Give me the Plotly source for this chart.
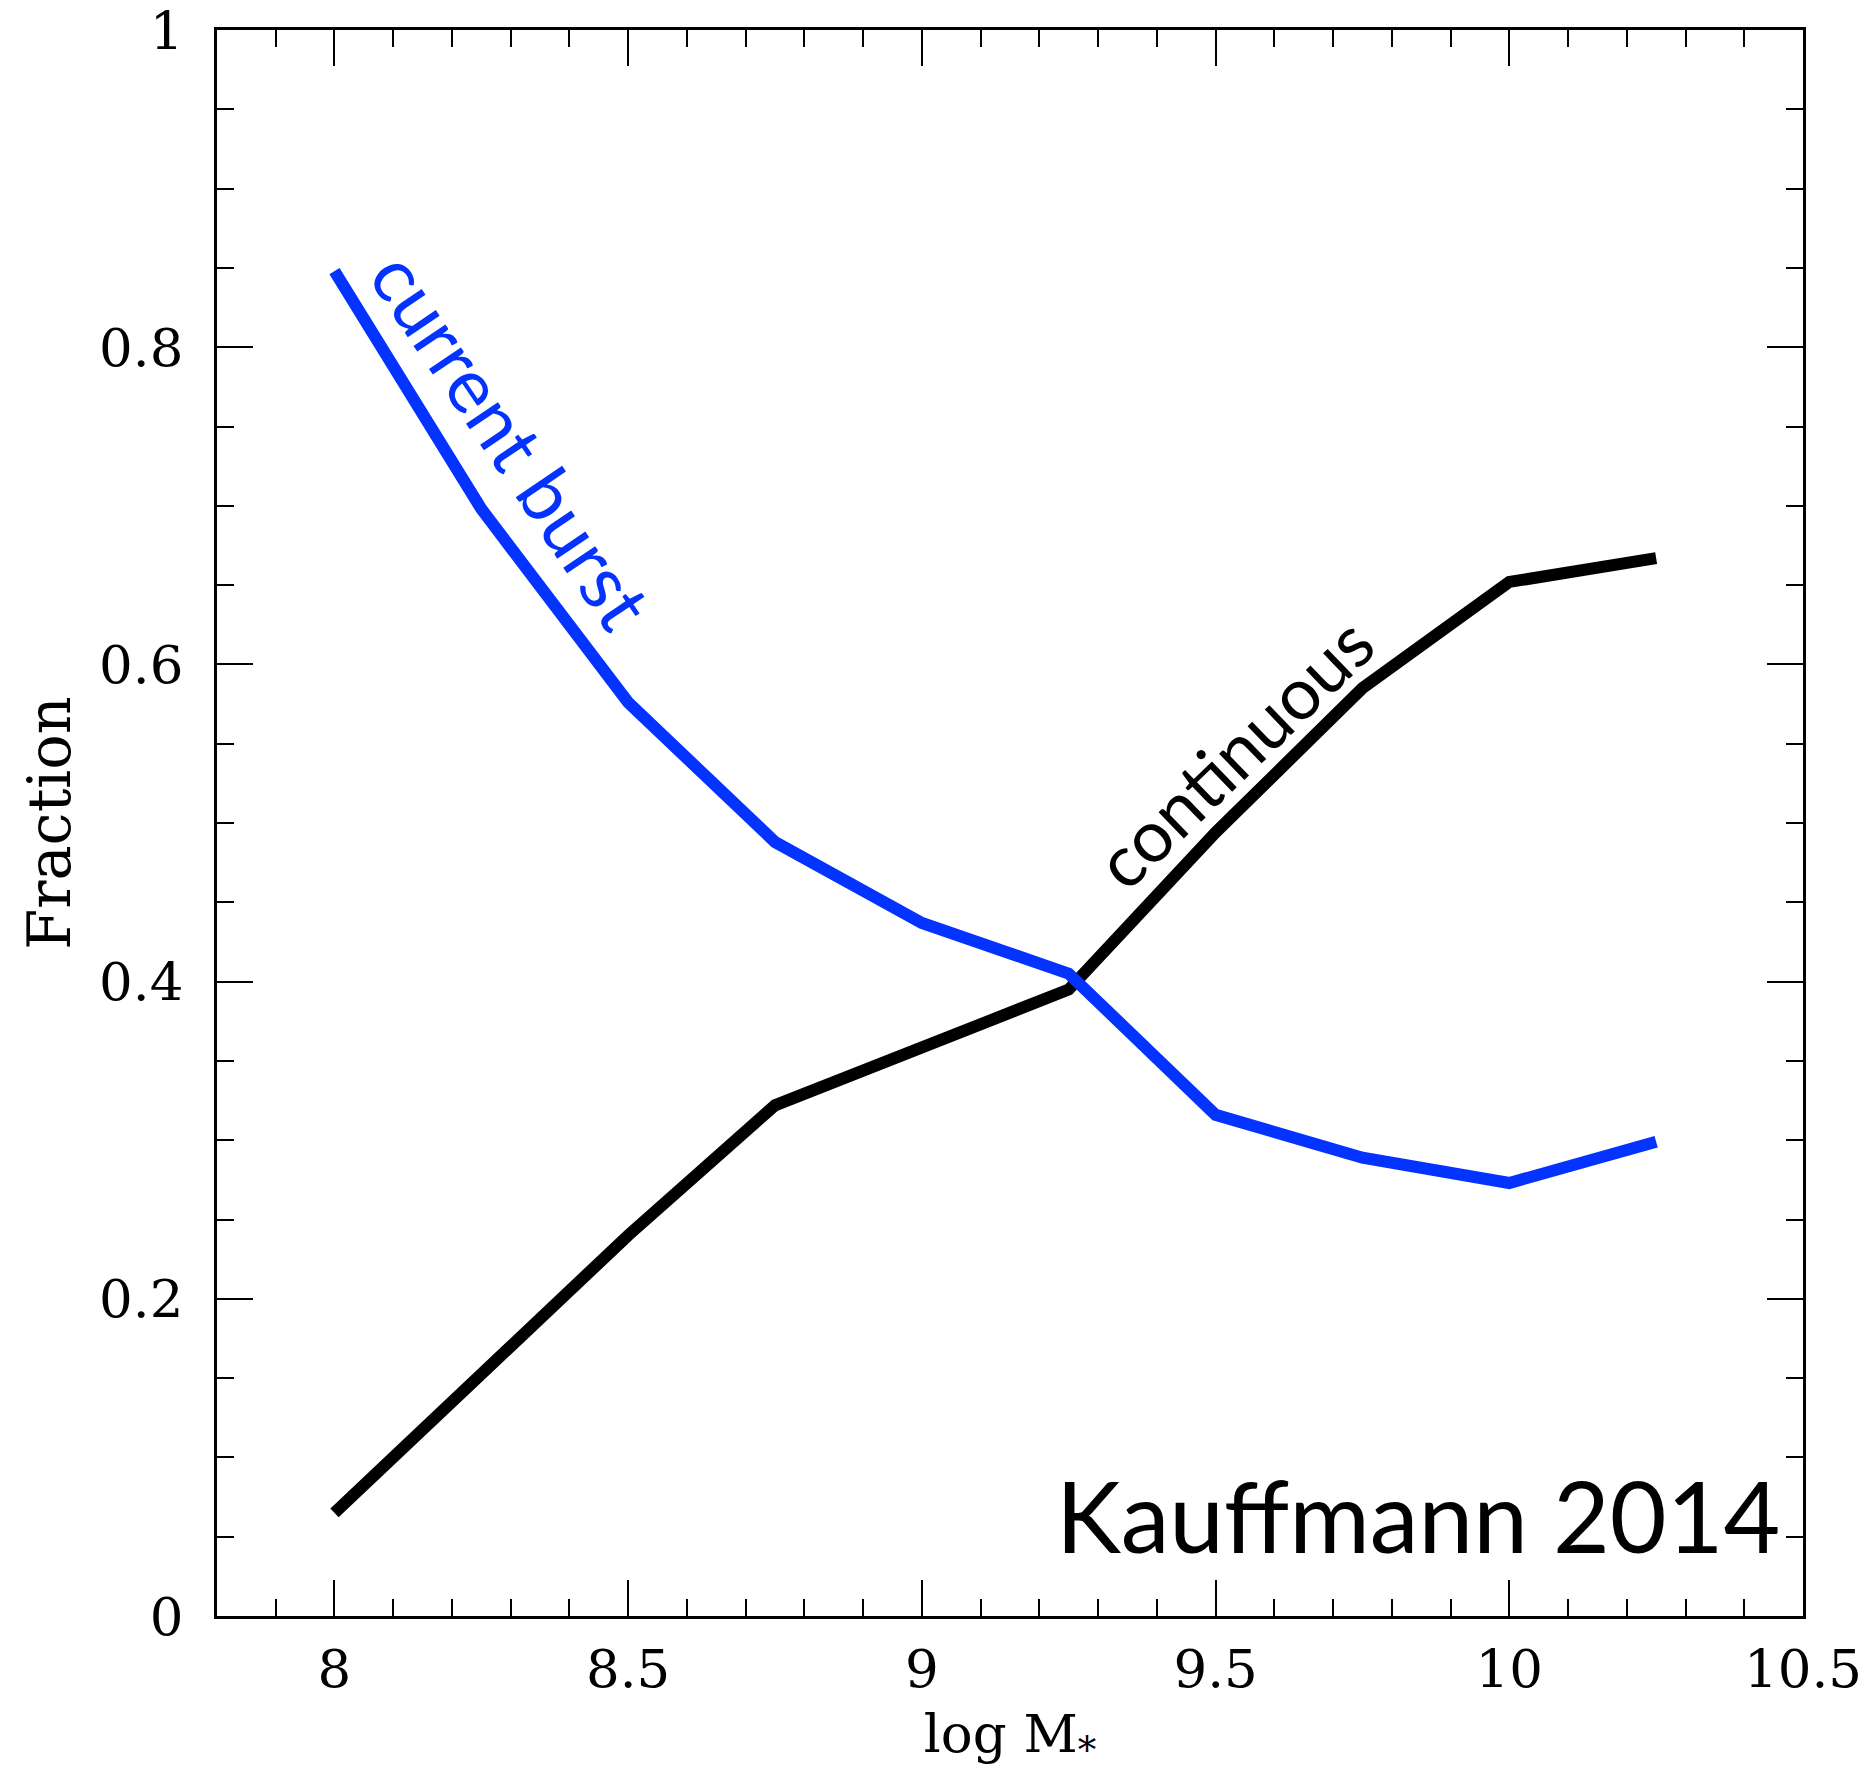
import plotly.graph_objects as go

# Data
log_mass = [8.0, 8.25, 8.5, 8.75, 9.0, 9.25, 9.5, 9.75, 10.0, 10.25]
frac_continuous = [0.065, 0.153, 0.240, 0.322, 0.358, 0.395, 0.494, 0.585, 0.652, 0.667]
frac_current_burst = [0.848, 0.698, 0.576, 0.488, 0.437, 0.405, 0.316, 0.289, 0.273, 0.299]

x_tick_labels = ["8", "8.5", "9", "9.5", "10", "10.5"]
y_tick_labels = ["0", "0.2", "0.4", "0.6", "0.8", "1"]

BLUE = "#0433ff"
W, H = 1876, 1772
L, R, T, B = 217, 73, 30, 156
pw, ph = W - L - R, H - T - B

def px_to_paper(px, py):
    return (px - L) / pw, (H - B - py) / ph

fig = go.Figure()
fig.add_trace(go.Scatter(x=log_mass, y=frac_continuous, mode="lines",
                         line=dict(color="black", width=12), name="continuous",
                         showlegend=False))
fig.add_trace(go.Scatter(x=log_mass, y=frac_current_burst, mode="lines",
                         line=dict(color=BLUE, width=12), name="current burst",
                         showlegend=False))

tickfont = dict(family="DejaVu Serif", size=53, color="black")

fig.update_xaxes(
    range=[7.8, 10.5], tickmode="array", tickvals=[8, 8.5, 9, 9.5, 10, 10.5],
    ticktext=x_tick_labels,
    ticks="inside", ticklen=36, tickwidth=2, tickcolor="black",
    minor=dict(tickmode="linear", tick0=8.0, dtick=0.1, ticks="inside", ticklen=17,
               tickwidth=2, tickcolor="black", showgrid=False),
    showline=True, linewidth=3, linecolor="black", mirror="ticks",
    showgrid=False, zeroline=False, tickfont=tickfont, ticklabelstandoff=4,
    ticklabeloverflow="allow",
    title=dict(text="log M<sub>*</sub>", font=dict(family="DejaVu Serif", size=53, color="black"),
               standoff=26),
    automargin=False,
)
fig.update_yaxes(
    range=[0, 1], tickmode="array", tickvals=[0, 0.2, 0.4, 0.6, 0.8, 1.0],
    ticktext=y_tick_labels,
    ticks="inside", ticklen=36, tickwidth=2, tickcolor="black",
    minor=dict(tickmode="linear", tick0=0, dtick=0.05, ticks="inside", ticklen=17,
               tickwidth=2, tickcolor="black", showgrid=False),
    showline=True, linewidth=3, linecolor="black", mirror="ticks",
    showgrid=False, zeroline=False, tickfont=tickfont, ticklabelstandoff=20,
    ticklabeloverflow="allow",
    title=dict(text="Fraction", font=dict(family="DejaVu Serif", size=59, color="black"),
               standoff=10),
    automargin=False,
)

ax, ay = px_to_paper(512, 440)
fig.add_annotation(x=ax, y=ay, xref="paper", yref="paper", text="current burst",
                   showarrow=False, textangle=56, xanchor="center", yanchor="middle",
                   font=dict(family="Lato", size=76, color=BLUE))
ax, ay = px_to_paper(1233, 752)
fig.add_annotation(x=ax, y=ay, xref="paper", yref="paper", text="continuous",
                   showarrow=False, textangle=-44, xanchor="center", yanchor="middle",
                   font=dict(family="Lato", size=72, color="black"))
ax, ay = px_to_paper(1418, 1576)
fig.add_annotation(x=ax, y=ay, xref="paper", yref="paper", text="Kauffmann 2014",
                   showarrow=False, xanchor="center", yanchor="bottom",
                   font=dict(family="Lato", size=98, color="black"))

fig.update_layout(
    width=W, height=H, margin=dict(l=L, r=R, t=T, b=B, autoexpand=False),
    paper_bgcolor="white", plot_bgcolor="white", showlegend=False,
)

fig.write_html("out.html")
